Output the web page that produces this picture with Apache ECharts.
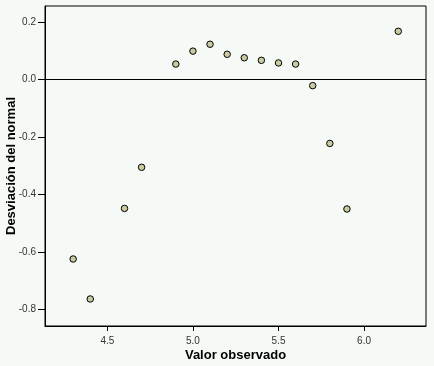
<!DOCTYPE html>
<html><head><meta charset="utf-8">
<script src="https://cdn.jsdelivr.net/npm/echarts@6/dist/echarts.min.js"></script>
<style>html,body{margin:0;padding:0;background:#f6faf6;}#c{width:434px;height:366px;}</style>
</head><body><div id="c"></div>
<script>
var observed = [4.3, 4.4, 4.6, 4.7, 4.9, 5.0, 5.1, 5.2, 5.3, 5.4, 5.5, 5.6, 5.7, 5.8, 5.9, 6.2];
var deviation = [-0.625, -0.764, -0.449, -0.306, 0.053, 0.098, 0.122, 0.087, 0.075, 0.066, 0.057, 0.053, -0.022, -0.223, -0.451, 0.167];
var xTicks = [4.5, 5.0, 5.5, 6.0];
var yTicks = [-0.8, -0.6, -0.4, -0.2, 0.0, 0.2];
var xTitle = 'Valor observado';
var yTitle = 'Desviación del normal';

var points = observed.map(function (v, i) { return [v, deviation[i]]; });
var font = 'Liberation Sans, Arial, sans-serif';
var chart = echarts.init(document.getElementById('c'), null, {renderer: 'canvas'});
chart.setOption({
  backgroundColor: '#f6faf6',
  animation: false,
  grid: {left: 45, top: 6, right: 8, bottom: 40, containLabel: false, outerBoundsMode: 'none',
    show: true, borderColor: '#000', borderWidth: 1, backgroundColor: 'transparent'},
  xAxis: {
    type: 'value', min: 4.1355, max: 6.362,
    name: xTitle, nameLocation: 'middle', nameGap: 23, nameMoveOverlap: false,
    nameTextStyle: {fontFamily: font, fontSize: 13, fontWeight: 'bold', color: '#000'},
    axisLine: {show: true, onZero: false, lineStyle: {color: '#000', width: 1}},
    axisTick: {show: true, length: 5, customValues: xTicks, lineStyle: {color: '#000'}},
    axisLabel: {customValues: xTicks, margin: 10, fontFamily: font, fontSize: 10, color: '#333',
      formatter: function (v) { return v.toFixed(1); }},
    splitLine: {show: false}
  },
  yAxis: {
    type: 'value', min: -0.858, max: 0.255,
    name: yTitle, nameLocation: 'middle', nameGap: 27, nameRotate: 90, nameMoveOverlap: false,
    nameTextStyle: {fontFamily: font, fontSize: 13, fontWeight: 'bold', color: '#000'},
    axisLine: {show: true, onZero: false, lineStyle: {color: '#000', width: 1}},
    axisTick: {show: true, length: 7, customValues: yTicks, lineStyle: {color: '#000'}},
    axisLabel: {customValues: yTicks, margin: 9, fontFamily: font, fontSize: 10, color: '#333',
      formatter: function (v) { return v.toFixed(1); }},
    splitLine: {show: false}
  },
  series: [{
    type: 'scatter', data: points, symbol: 'circle', symbolSize: 6.5,
    itemStyle: {color: '#cacaa0', borderColor: '#000', borderWidth: 1, opacity: 1},
    markLine: {silent: true, symbol: ['none', 'none'], label: {show: false},
      lineStyle: {color: '#000', width: 1, type: 'solid'}, data: [{yAxis: 0}]}
  }]
});
</script></body></html>
